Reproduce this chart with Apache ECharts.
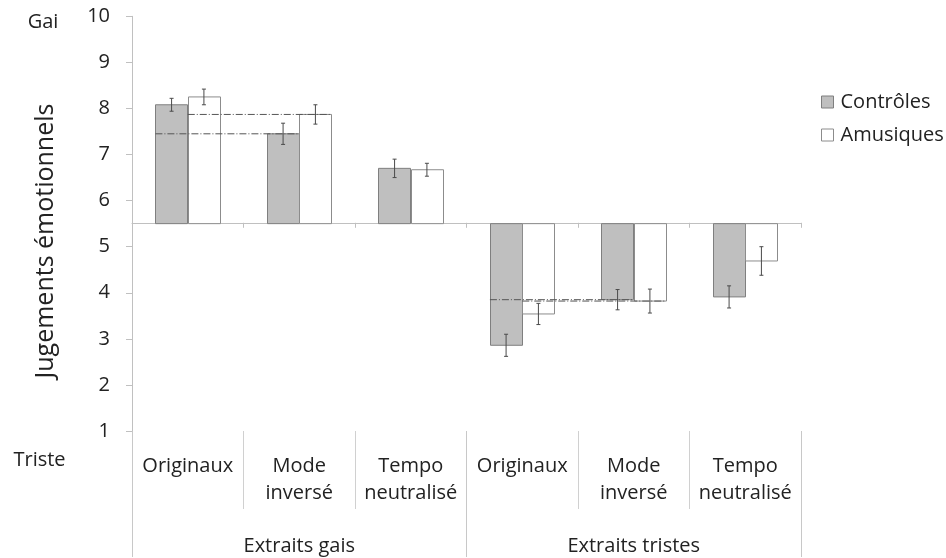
<!DOCTYPE html>
<html>
<head>
<meta charset="utf-8">
<script src="https://cdn.jsdelivr.net/npm/echarts@6/dist/echarts.min.js"></script>
<style>
    html, body { margin: 0; padding: 0; background: #fff; }
    #chart { width: 946px; height: 558px; }
</style>
</head>
<body>
<div id="chart"></div>
<script>
    // catégories (axe x) et groupes
    var categories = ['Originaux', 'Mode\ninversé', 'Tempo\nneutralisé', 'Originaux', 'Mode\ninversé', 'Tempo\nneutralisé'];
    var groups = ['Extraits gais', 'Extraits tristes'];

    // moyennes et erreurs standard
    var controles = [8.08, 7.45, 6.70, 2.86, 3.85, 3.91];
    var controlesErr = [0.14, 0.23, 0.20, 0.24, 0.22, 0.24];
    var amusiques = [8.25, 7.87, 6.67, 3.54, 3.82, 4.69];
    var amusiquesErr = [0.17, 0.21, 0.14, 0.23, 0.26, 0.31];

    // point neutre de l'échelle et bornes
    var baseline = 5.5;
    var yMin = 1, yMax = 10;

    // lignes de référence : niveau de la barre "Mode inversé" ramené jusqu'à "Originaux"
    var refPairs = [[0, 1], [3, 4]];

    var font = '"Open Sans", "Noto Sans", sans-serif';
    var textColor = '#222';
    var barRatio = 0.29;

    var gridTop = 16.3, gridBottom = 558 - 432.7;
    var gridHeight = 558 - gridTop - gridBottom;
    var baseOffset = -(baseline - yMin) / (yMax - yMin) * gridHeight;

    function barRenderer(side, fill, stroke) {
        return function (params, api) {
            var i = api.value(0), v = api.value(1), e = api.value(2);
            var base = api.coord([i, baseline]);
            var top = api.coord([i, v]);
            var bw = api.size([1, 0])[0] * barRatio;
            var x0 = side < 0 ? base[0] - bw : base[0];
            var cx = x0 + bw / 2;
            var hi = api.coord([i, v + e])[1];
            var lo = api.coord([i, v - e])[1];
            var errStyle = {stroke: '#4a4a4a', lineWidth: 1};
            return {
                type: 'group',
                children: [
                    {type: 'rect', shape: {x: Math.round(x0) + 0.5, y: Math.min(top[1], base[1]), width: Math.round(bw), height: Math.abs(top[1] - base[1])},
                        style: {fill: fill, stroke: stroke, lineWidth: 1}},
                    {type: 'line', shape: {x1: cx, y1: hi, x2: cx, y2: lo}, style: errStyle},
                    {type: 'line', shape: {x1: cx - 2, y1: hi, x2: cx + 2, y2: hi}, style: errStyle},
                    {type: 'line', shape: {x1: cx - 2, y1: lo, x2: cx + 2, y2: lo}, style: errStyle}
                ]
            };
        };
    }

    function refRenderer(params, api) {
        var from = api.value(0), to = api.value(1), v = api.value(2), side = api.value(3);
        var bw = api.size([1, 0])[0] * barRatio;
        var a = api.coord([from, v]);
        var b = api.coord([to, v]);
        var x1 = side < 0 ? a[0] - bw : a[0];
        var x2 = side < 0 ? b[0] : b[0] + bw;
        return {
            type: 'line',
            shape: {x1: x1, y1: a[1], x2: x2, y2: b[1]},
            style: {stroke: '#555', lineWidth: 1, lineDash: [7, 2, 1, 2]}
        };
    }

    var refData = [];
    refPairs.forEach(function (p) {
        refData.push([p[0], p[1], controles[p[1]], -1]);
        refData.push([p[0], p[1], amusiques[p[1]], 1]);
    });

    var option = {
        animation: false,
        backgroundColor: '#fff',
        textStyle: {fontFamily: font},
        grid: {left: 132, right: 145, top: gridTop, bottom: gridBottom},
        legend: {
            orient: 'vertical',
            left: 816,
            top: 87,
            itemWidth: 12,
            itemHeight: 12,
            itemGap: 13,
            icon: 'rect',
            textStyle: {fontFamily: font, fontSize: 20, color: textColor, lineHeight: 20, padding: [0, 0, 0, 2]},
            data: [
                {name: 'Contrôles', itemStyle: {color: '#bfbfbf', borderColor: '#7f7f7f', borderWidth: 1}},
                {name: 'Amusiques', itemStyle: {color: '#fff', borderColor: '#8c8c8c', borderWidth: 1}}
            ]
        },
        xAxis: [
            {
                type: 'category',
                data: categories,
                position: 'bottom',
                axisLine: {show: false},
                axisTick: {show: true, length: 78, lineStyle: {color: '#d0d0d0'}},
                axisLabel: {interval: 0, margin: 22, fontSize: 20, lineHeight: 27, color: textColor, fontFamily: font}
            },
            {
                type: 'category',
                data: groups,
                position: 'bottom',
                axisLine: {show: false},
                axisTick: {show: true, length: 126, lineStyle: {color: '#c8c8c8'}},
                axisLabel: {interval: 0, margin: 103, fontSize: 20, lineHeight: 24, color: textColor, fontFamily: font}
            },
            {
                type: 'category',
                data: categories,
                position: 'bottom',
                offset: baseOffset,
                axisLine: {show: true, lineStyle: {color: '#c0c0c0'}},
                axisTick: {show: true, length: 5, lineStyle: {color: '#c0c0c0'}},
                axisLabel: {show: false}
            }
        ],
        yAxis: {
            type: 'value',
            min: yMin,
            max: yMax,
            interval: 1,
            axisLine: {show: true, lineStyle: {color: '#c0c0c0'}},
            axisTick: {show: true, length: 6, lineStyle: {color: '#c0c0c0'}},
            splitLine: {show: false},
            axisLabel: {margin: 22, fontSize: 20, color: textColor, fontFamily: font}
        },
        graphic: [
            {type: 'text', x: 43, y: 22, style: {text: 'Gai', font: '20px ' + font, fill: textColor, textAlign: 'center', textVerticalAlign: 'middle'}},
            {type: 'text', x: 39.5, y: 460, style: {text: 'Triste', font: '20px ' + font, fill: textColor, textAlign: 'center', textVerticalAlign: 'middle'}},
            {type: 'text', x: 46, y: 241, rotation: Math.PI / 2,
                style: {text: 'Jugements émotionnels', font: '25px ' + font, fill: textColor, textAlign: 'center', textVerticalAlign: 'middle'}}
        ],
        series: [
            {
                name: 'Contrôles',
                type: 'custom',
                renderItem: barRenderer(-1, '#bfbfbf', '#7f7f7f'),
                itemStyle: {color: '#bfbfbf'},
                encode: {x: 0, y: 1},
                data: controles.map(function (v, i) { return [i, v, controlesErr[i]]; }),
                z: 2
            },
            {
                name: 'Amusiques',
                type: 'custom',
                renderItem: barRenderer(1, '#ffffff', '#8c8c8c'),
                itemStyle: {color: '#ffffff'},
                encode: {x: 0, y: 1},
                data: amusiques.map(function (v, i) { return [i, v, amusiquesErr[i]]; }),
                z: 2
            },
            {
                name: 'réf',
                type: 'custom',
                renderItem: refRenderer,
                encode: {x: 0, y: 2},
                data: refData,
                z: 3,
                silent: true
            }
        ]
    };

    var chart = echarts.init(document.getElementById('chart'));
    chart.setOption(option);
</script>
</body>
</html>
